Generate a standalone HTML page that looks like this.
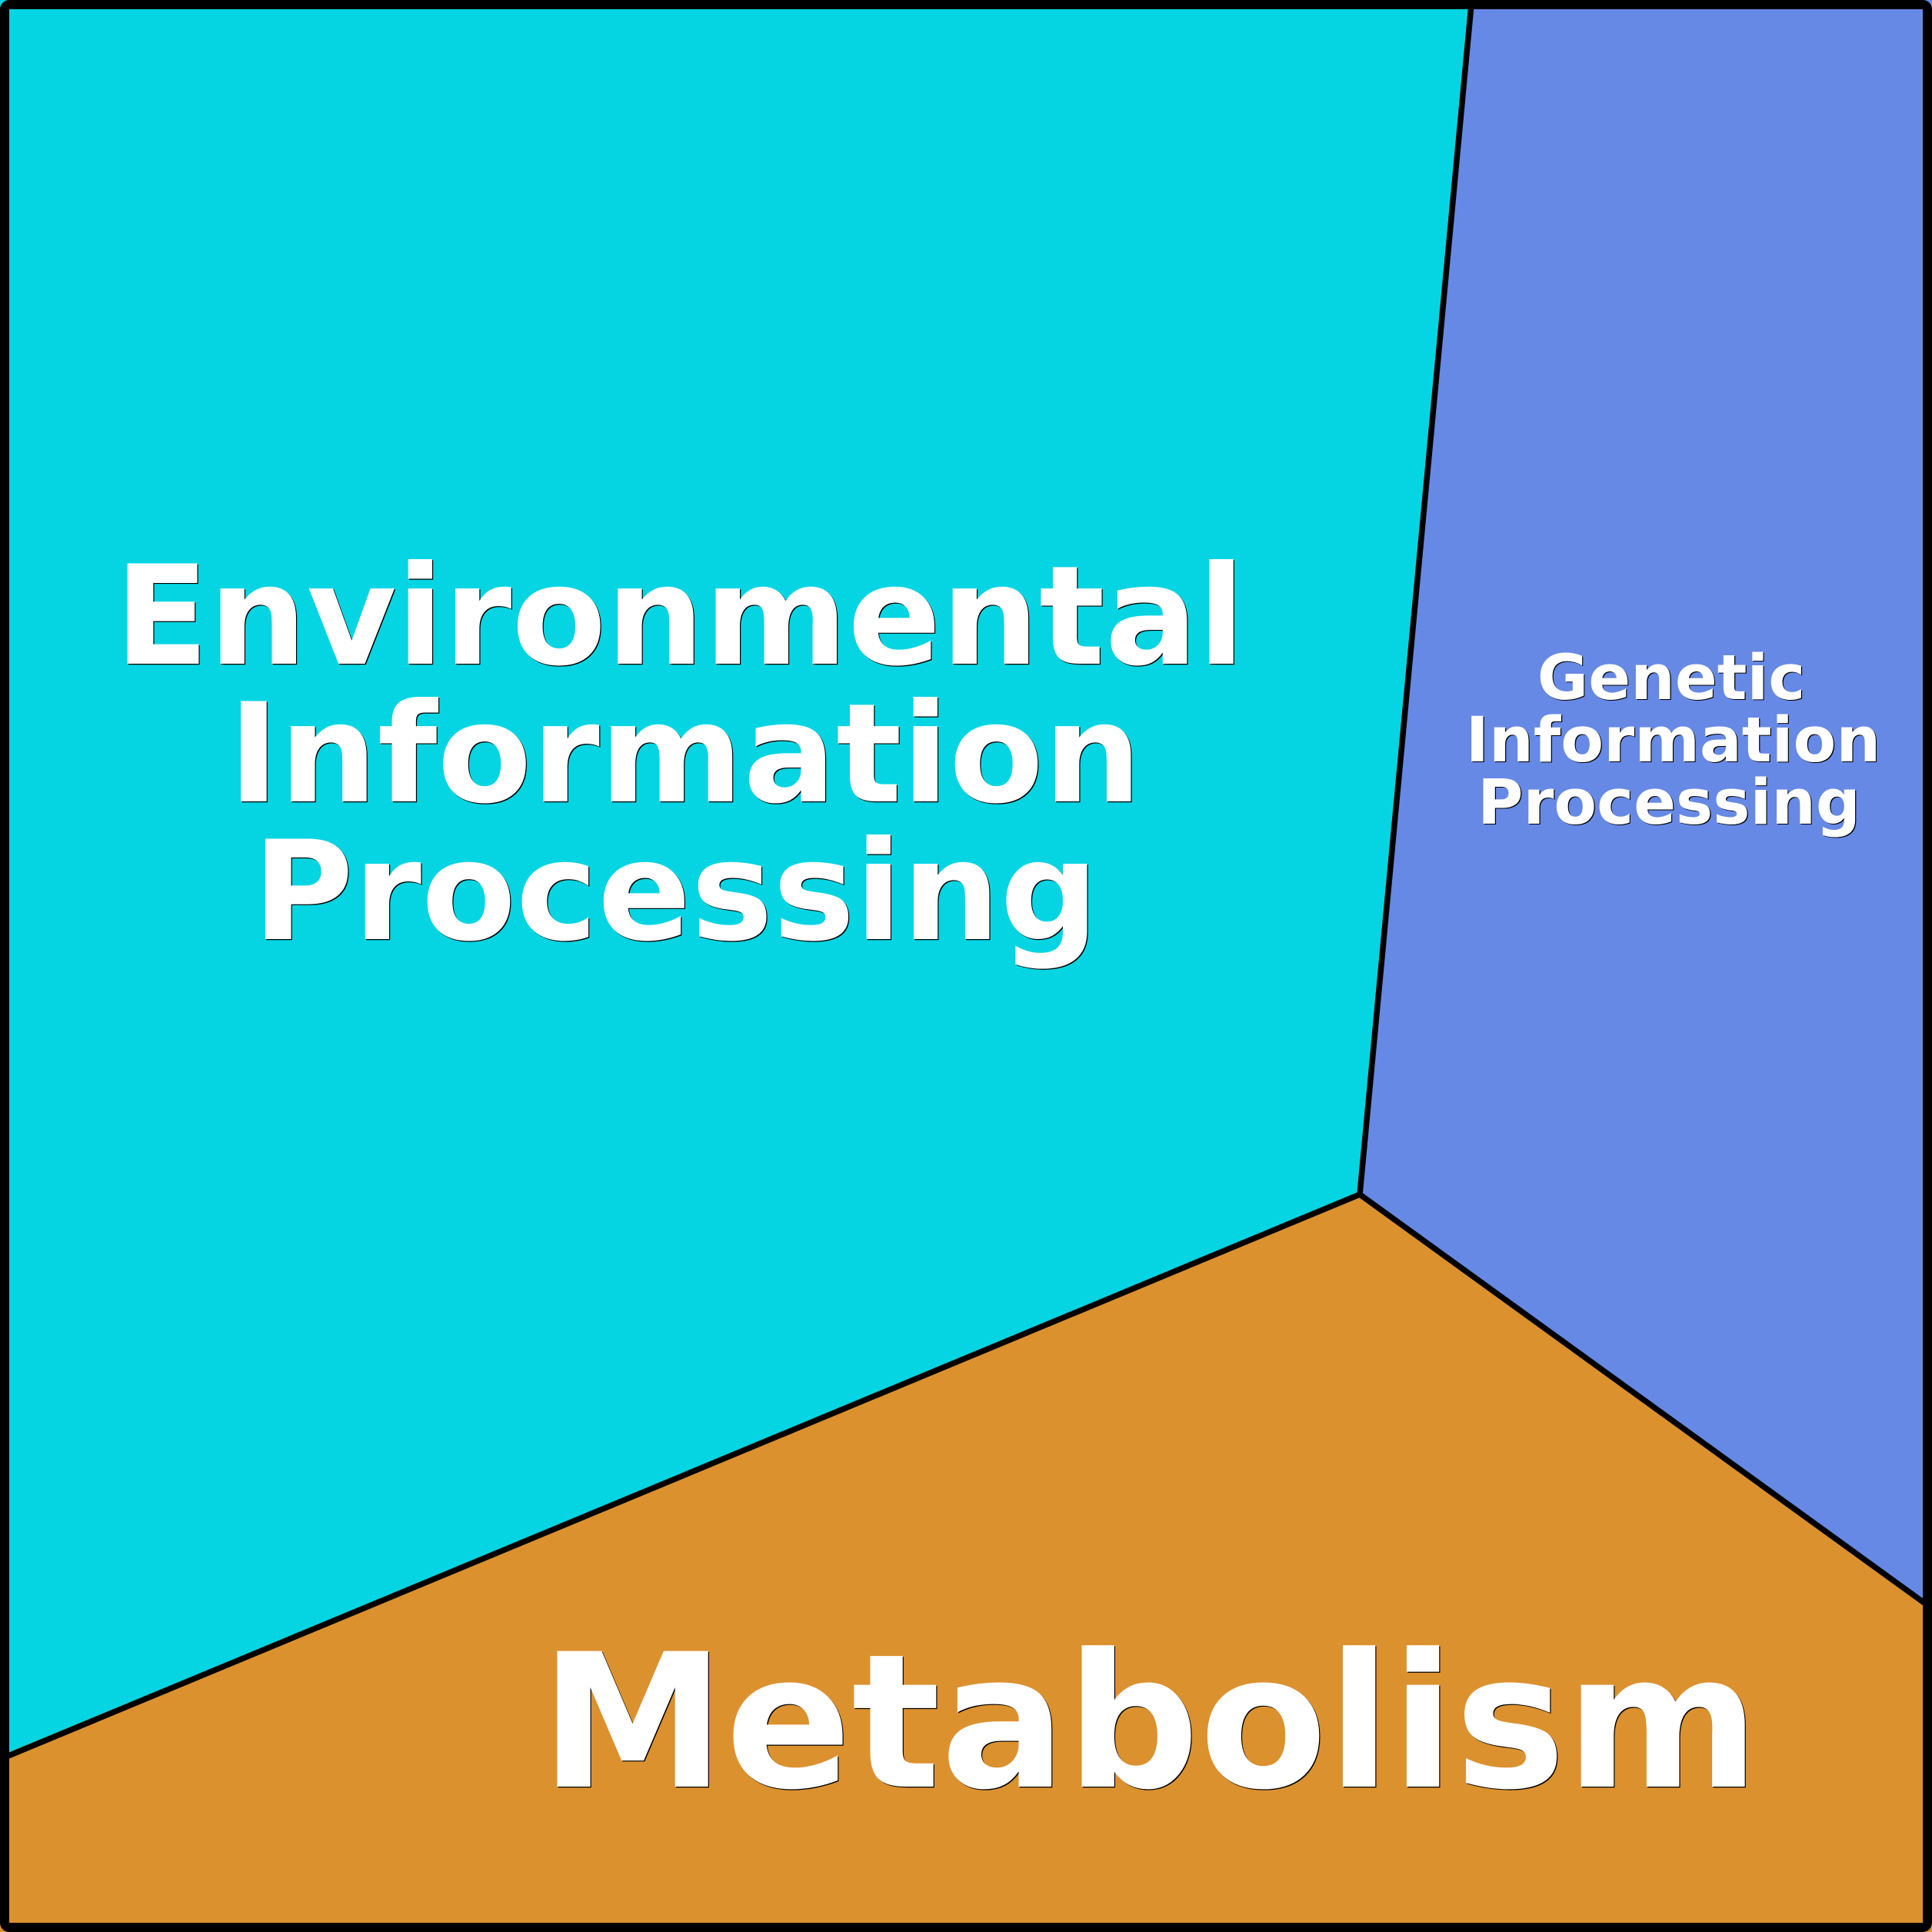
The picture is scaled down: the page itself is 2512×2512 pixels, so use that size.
<!DOCTYPE html>
<html><head><meta charset="utf-8"><style>html,body{margin:0;padding:0;background:#fff}svg{display:block}text{font-family:"DejaVu Sans",sans-serif;font-weight:bold;text-anchor:middle}</style></head><body>
<svg xmlns="http://www.w3.org/2000/svg" width="2512" height="2512" viewBox="0 0 2512 2512">
<rect x="0" y="0" width="2512" height="2512" fill="#05d5e2"/>
<polygon points="1913,0 2512,0 2512,2087 1768,1553" fill="#6689e5"/>
<polygon points="1768,1553 2512,2087 2512,2512 0,2512 0,2283" fill="#dc912f"/>
<g fill="none" stroke="#000" stroke-width="7.5">
<line x1="1913" y1="6" x2="1768" y2="1553"/>
<line x1="6" y1="2285" x2="1768" y2="1553"/>
<line x1="1768" y1="1553" x2="2506" y2="2087"/>
</g>
<rect x="6" y="6" width="2500" height="2500" rx="6" fill="none" stroke="#000" stroke-width="12"/>
<g fill="#000" transform="translate(1.2,1.2)">
<text x="884" y="863" font-size="179">Environmental</text>
<text x="890.5" y="1042" font-size="179">Information</text>
<text x="878.5" y="1221" font-size="179">Processing</text>
<text x="2173" y="909" font-size="81">Genetic</text>
<text x="2175.5" y="990" font-size="81.3">Information</text>
<text x="2170" y="1071" font-size="81">Processing</text>
<text x="1495" y="2323" font-size="242">Metabolism</text>
</g>
<g fill="#fff">
<text x="884" y="863" font-size="179">Environmental</text>
<text x="890.5" y="1042" font-size="179">Information</text>
<text x="878.5" y="1221" font-size="179">Processing</text>
<text x="2173" y="909" font-size="81">Genetic</text>
<text x="2175.5" y="990" font-size="81.3">Information</text>
<text x="2170" y="1071" font-size="81">Processing</text>
<text x="1495" y="2323" font-size="242">Metabolism</text>
</g>
</svg>
</body></html>
